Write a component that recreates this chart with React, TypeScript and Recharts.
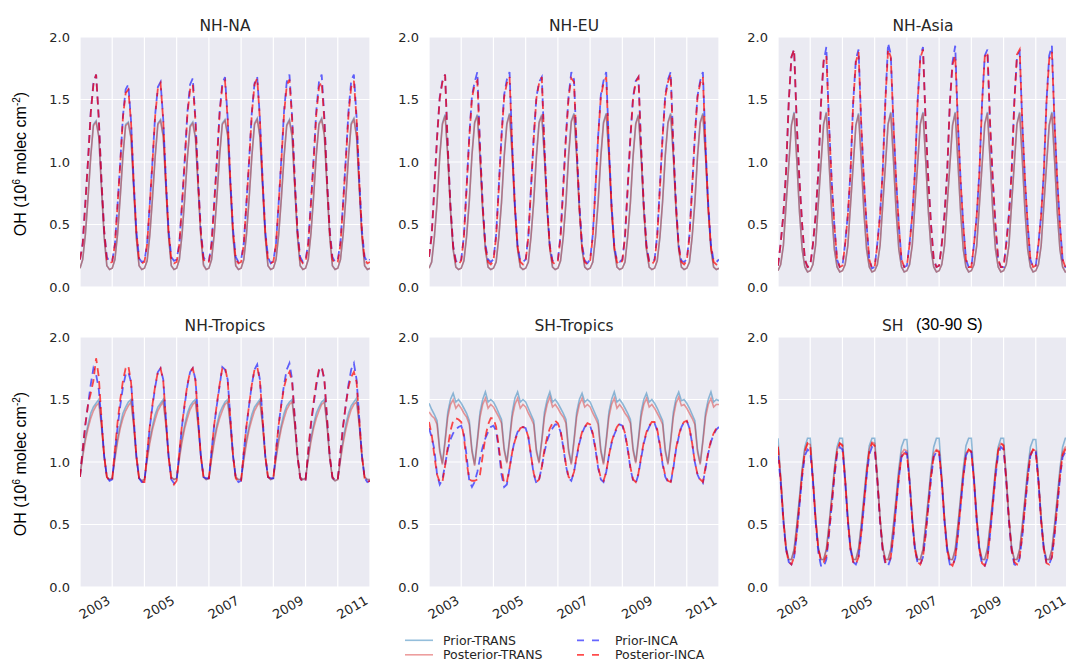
import { LineChart, Line, XAxis, YAxis, CartesianGrid } from "recharts";

// monthly OH means, Jan 2002 .. Jan 2011 (one row per year + final Jan)
const startYear = 2002;
const yearTicks = [2003, 2004, 2005, 2006, 2007, 2008, 2009, 2010, 2011];
const labelledYears = [2003, 2005, 2007, 2009, 2011];
const ohTicks = [0, 0.5, 1.0, 1.5, 2.0];
const seriesNames = ["Prior-TRANS", "Posterior-TRANS", "Prior-INCA", "Posterior-INCA"];

// ---- NH-NA ----
const naPriorTrans = [
  0.15, 0.22, 0.42, 0.72, 1.05, 1.30, 1.33, 1.21, 0.80, 0.40, 0.17, 0.14,
  0.15, 0.22, 0.43, 0.73, 1.06, 1.30, 1.32, 1.20, 0.79, 0.39, 0.17, 0.14,
  0.15, 0.21, 0.42, 0.72, 1.05, 1.31, 1.34, 1.21, 0.80, 0.40, 0.17, 0.14,
  0.15, 0.22, 0.42, 0.71, 1.04, 1.29, 1.32, 1.20, 0.80, 0.41, 0.18, 0.14,
  0.15, 0.22, 0.43, 0.73, 1.06, 1.31, 1.34, 1.22, 0.80, 0.40, 0.17, 0.14,
  0.15, 0.22, 0.42, 0.72, 1.05, 1.31, 1.35, 1.21, 0.81, 0.40, 0.17, 0.14,
  0.15, 0.22, 0.42, 0.72, 1.05, 1.30, 1.34, 1.21, 0.80, 0.40, 0.17, 0.14,
  0.15, 0.22, 0.43, 0.73, 1.06, 1.31, 1.35, 1.22, 0.80, 0.40, 0.17, 0.14,
  0.15, 0.22, 0.42, 0.72, 1.05, 1.31, 1.35, 1.21, 0.80, 0.40, 0.17, 0.14,
  0.15,
];
const naPostTrans = [
  0.15, 0.22, 0.42, 0.71, 1.04, 1.29, 1.32, 1.20, 0.79, 0.40, 0.17, 0.14,
  0.15, 0.22, 0.42, 0.72, 1.05, 1.29, 1.31, 1.19, 0.79, 0.39, 0.17, 0.14,
  0.15, 0.21, 0.41, 0.71, 1.04, 1.30, 1.33, 1.20, 0.79, 0.40, 0.17, 0.14,
  0.15, 0.22, 0.42, 0.71, 1.03, 1.28, 1.31, 1.19, 0.79, 0.40, 0.17, 0.14,
  0.15, 0.22, 0.42, 0.72, 1.05, 1.30, 1.33, 1.21, 0.80, 0.40, 0.17, 0.14,
  0.15, 0.22, 0.42, 0.71, 1.04, 1.30, 1.34, 1.20, 0.80, 0.40, 0.17, 0.14,
  0.15, 0.22, 0.42, 0.71, 1.04, 1.29, 1.33, 1.20, 0.79, 0.40, 0.17, 0.14,
  0.15, 0.22, 0.42, 0.72, 1.05, 1.30, 1.34, 1.21, 0.80, 0.40, 0.17, 0.14,
  0.15, 0.22, 0.42, 0.71, 1.04, 1.30, 1.34, 1.20, 0.79, 0.40, 0.17, 0.14,
  0.15,
];
const naPriorInca = [
  0.22, 0.35, 0.68, 1.02, 1.40, 1.63, 1.70, 1.35, 0.85, 0.45, 0.24, 0.20,
  0.21, 0.34, 0.66, 1.00, 1.37, 1.58, 1.62, 1.33, 0.84, 0.45, 0.23, 0.20,
  0.21, 0.35, 0.67, 1.01, 1.38, 1.60, 1.64, 1.34, 0.85, 0.45, 0.24, 0.21,
  0.22, 0.35, 0.67, 1.02, 1.40, 1.62, 1.67, 1.34, 0.85, 0.45, 0.24, 0.20,
  0.21, 0.35, 0.68, 1.02, 1.40, 1.63, 1.68, 1.35, 0.85, 0.46, 0.24, 0.20,
  0.22, 0.35, 0.68, 1.02, 1.40, 1.63, 1.68, 1.35, 0.86, 0.45, 0.24, 0.19,
  0.21, 0.35, 0.68, 1.03, 1.41, 1.64, 1.70, 1.36, 0.85, 0.45, 0.24, 0.20,
  0.22, 0.35, 0.68, 1.03, 1.41, 1.64, 1.70, 1.36, 0.86, 0.46, 0.24, 0.20,
  0.22, 0.36, 0.68, 1.03, 1.41, 1.65, 1.70, 1.36, 0.86, 0.45, 0.24, 0.20,
  0.22,
];
const naPostInca = [
  0.22, 0.34, 0.67, 1.01, 1.39, 1.62, 1.70, 1.34, 0.85, 0.45, 0.22, 0.19,
  0.20, 0.34, 0.66, 0.99, 1.36, 1.55, 1.58, 1.32, 0.84, 0.44, 0.22, 0.19,
  0.20, 0.34, 0.66, 1.00, 1.37, 1.59, 1.63, 1.33, 0.84, 0.44, 0.22, 0.19,
  0.20, 0.34, 0.66, 1.00, 1.38, 1.58, 1.62, 1.33, 0.84, 0.44, 0.22, 0.19,
  0.20, 0.34, 0.67, 1.01, 1.39, 1.61, 1.65, 1.34, 0.85, 0.45, 0.22, 0.19,
  0.20, 0.34, 0.67, 1.01, 1.39, 1.62, 1.67, 1.34, 0.85, 0.44, 0.22, 0.19,
  0.20, 0.34, 0.67, 1.01, 1.39, 1.61, 1.66, 1.34, 0.84, 0.44, 0.22, 0.19,
  0.20, 0.34, 0.66, 1.00, 1.38, 1.60, 1.64, 1.33, 0.84, 0.44, 0.22, 0.19,
  0.20, 0.34, 0.67, 1.01, 1.38, 1.60, 1.65, 1.34, 0.85, 0.44, 0.22, 0.19,
  0.20,
];

// ---- NH-EU ----
const euPriorTrans = [
  0.15, 0.20, 0.40, 0.68, 1.05, 1.31, 1.38, 1.05, 0.62, 0.30, 0.16, 0.14,
  0.15, 0.21, 0.41, 0.69, 1.06, 1.32, 1.38, 1.04, 0.61, 0.30, 0.16, 0.14,
  0.15, 0.20, 0.40, 0.68, 1.05, 1.31, 1.39, 1.05, 0.62, 0.30, 0.16, 0.14,
  0.15, 0.20, 0.41, 0.69, 1.05, 1.32, 1.38, 1.04, 0.62, 0.31, 0.16, 0.14,
  0.15, 0.21, 0.40, 0.68, 1.06, 1.33, 1.39, 1.05, 0.62, 0.30, 0.16, 0.14,
  0.15, 0.20, 0.40, 0.69, 1.05, 1.32, 1.39, 1.06, 0.62, 0.30, 0.16, 0.14,
  0.15, 0.20, 0.41, 0.68, 1.05, 1.31, 1.38, 1.05, 0.61, 0.30, 0.16, 0.14,
  0.15, 0.21, 0.40, 0.69, 1.06, 1.32, 1.39, 1.05, 0.62, 0.30, 0.16, 0.14,
  0.15, 0.20, 0.40, 0.68, 1.05, 1.32, 1.39, 1.05, 0.62, 0.30, 0.16, 0.14,
  0.15,
];
const euPostTrans = [
  0.15, 0.20, 0.40, 0.67, 1.04, 1.30, 1.37, 1.04, 0.61, 0.30, 0.16, 0.14,
  0.15, 0.21, 0.40, 0.68, 1.05, 1.31, 1.37, 1.03, 0.61, 0.30, 0.16, 0.14,
  0.15, 0.20, 0.40, 0.67, 1.04, 1.30, 1.38, 1.04, 0.61, 0.30, 0.16, 0.14,
  0.15, 0.20, 0.40, 0.68, 1.04, 1.31, 1.37, 1.03, 0.61, 0.30, 0.16, 0.14,
  0.15, 0.21, 0.40, 0.67, 1.05, 1.32, 1.38, 1.04, 0.61, 0.30, 0.16, 0.14,
  0.15, 0.20, 0.40, 0.68, 1.04, 1.31, 1.38, 1.05, 0.61, 0.30, 0.16, 0.14,
  0.15, 0.20, 0.40, 0.67, 1.04, 1.30, 1.37, 1.04, 0.61, 0.30, 0.16, 0.14,
  0.15, 0.21, 0.40, 0.68, 1.05, 1.31, 1.38, 1.04, 0.61, 0.30, 0.16, 0.14,
  0.15, 0.20, 0.40, 0.67, 1.04, 1.31, 1.38, 1.04, 0.61, 0.30, 0.16, 0.14,
  0.15,
];
const euPriorInca = [
  0.24, 0.42, 0.80, 1.20, 1.52, 1.65, 1.70, 1.12, 0.65, 0.33, 0.21, 0.19,
  0.22, 0.41, 0.80, 1.21, 1.53, 1.64, 1.72, 1.13, 0.66, 0.34, 0.22, 0.20,
  0.22, 0.42, 0.81, 1.21, 1.54, 1.66, 1.72, 1.13, 0.66, 0.33, 0.21, 0.20,
  0.22, 0.41, 0.80, 1.20, 1.52, 1.64, 1.68, 1.11, 0.65, 0.33, 0.21, 0.20,
  0.22, 0.42, 0.81, 1.21, 1.53, 1.72, 1.66, 1.12, 0.66, 0.34, 0.21, 0.19,
  0.22, 0.42, 0.80, 1.21, 1.54, 1.65, 1.72, 1.13, 0.66, 0.33, 0.21, 0.20,
  0.22, 0.41, 0.80, 1.20, 1.52, 1.65, 1.68, 1.12, 0.65, 0.33, 0.21, 0.20,
  0.22, 0.42, 0.81, 1.21, 1.54, 1.66, 1.72, 1.13, 0.66, 0.33, 0.21, 0.20,
  0.22, 0.42, 0.80, 1.21, 1.53, 1.65, 1.72, 1.13, 0.66, 0.34, 0.21, 0.20,
  0.22,
];
const euPostInca = [
  0.24, 0.41, 0.79, 1.19, 1.51, 1.64, 1.70, 1.11, 0.64, 0.32, 0.20, 0.18,
  0.21, 0.40, 0.79, 1.19, 1.51, 1.62, 1.65, 1.11, 0.64, 0.32, 0.20, 0.18,
  0.21, 0.40, 0.79, 1.20, 1.52, 1.63, 1.68, 1.11, 0.64, 0.32, 0.20, 0.18,
  0.21, 0.40, 0.79, 1.19, 1.51, 1.63, 1.68, 1.11, 0.64, 0.32, 0.20, 0.18,
  0.21, 0.40, 0.79, 1.20, 1.52, 1.67, 1.64, 1.11, 0.64, 0.32, 0.20, 0.18,
  0.21, 0.40, 0.79, 1.20, 1.52, 1.63, 1.68, 1.11, 0.64, 0.32, 0.20, 0.18,
  0.21, 0.40, 0.79, 1.19, 1.51, 1.64, 1.68, 1.11, 0.64, 0.32, 0.20, 0.18,
  0.21, 0.40, 0.79, 1.20, 1.52, 1.64, 1.70, 1.11, 0.64, 0.32, 0.20, 0.18,
  0.21, 0.40, 0.79, 1.20, 1.52, 1.63, 1.68, 1.11, 0.64, 0.32, 0.20, 0.18,
  0.21,
];

// ---- NH-Asia ----
const asPriorTrans = [
  0.13, 0.18, 0.33, 0.66, 0.98, 1.30, 1.40, 1.02, 0.60, 0.30, 0.16, 0.12,
  0.13, 0.18, 0.34, 0.67, 0.99, 1.31, 1.40, 1.01, 0.60, 0.30, 0.16, 0.12,
  0.13, 0.18, 0.33, 0.66, 0.98, 1.30, 1.39, 1.02, 0.60, 0.30, 0.16, 0.12,
  0.13, 0.18, 0.33, 0.66, 0.98, 1.31, 1.40, 1.02, 0.61, 0.30, 0.16, 0.12,
  0.13, 0.18, 0.34, 0.67, 0.99, 1.31, 1.40, 1.02, 0.60, 0.30, 0.16, 0.12,
  0.13, 0.18, 0.33, 0.66, 0.98, 1.30, 1.40, 1.01, 0.60, 0.30, 0.16, 0.12,
  0.13, 0.18, 0.33, 0.66, 0.98, 1.31, 1.40, 1.02, 0.60, 0.30, 0.16, 0.12,
  0.13, 0.18, 0.34, 0.67, 0.99, 1.31, 1.40, 1.02, 0.60, 0.30, 0.16, 0.12,
  0.13, 0.18, 0.33, 0.66, 0.98, 1.30, 1.40, 1.02, 0.60, 0.30, 0.16, 0.12,
  0.13,
];
const asPostTrans = [
  0.13, 0.18, 0.33, 0.65, 0.97, 1.29, 1.39, 1.01, 0.60, 0.30, 0.16, 0.12,
  0.13, 0.18, 0.33, 0.66, 0.98, 1.30, 1.39, 1.00, 0.60, 0.30, 0.16, 0.12,
  0.13, 0.18, 0.33, 0.65, 0.97, 1.29, 1.38, 1.01, 0.60, 0.30, 0.16, 0.12,
  0.13, 0.18, 0.33, 0.65, 0.97, 1.30, 1.39, 1.01, 0.60, 0.30, 0.16, 0.12,
  0.13, 0.18, 0.33, 0.66, 0.98, 1.30, 1.39, 1.01, 0.60, 0.30, 0.16, 0.12,
  0.13, 0.18, 0.33, 0.65, 0.97, 1.29, 1.39, 1.00, 0.60, 0.30, 0.16, 0.12,
  0.13, 0.18, 0.33, 0.65, 0.97, 1.30, 1.39, 1.01, 0.60, 0.30, 0.16, 0.12,
  0.13, 0.18, 0.33, 0.66, 0.98, 1.30, 1.39, 1.01, 0.60, 0.30, 0.16, 0.12,
  0.13, 0.18, 0.33, 0.65, 0.97, 1.29, 1.39, 1.01, 0.60, 0.30, 0.16, 0.12,
  0.13,
];
const asPriorInca = [
  0.17, 0.35, 0.58, 0.92, 1.48, 1.84, 1.90, 1.30, 0.85, 0.50, 0.22, 0.16,
  0.17, 0.34, 0.57, 0.91, 1.47, 1.80, 1.92, 1.31, 0.85, 0.49, 0.22, 0.16,
  0.17, 0.35, 0.58, 0.92, 1.48, 1.82, 1.90, 1.30, 0.85, 0.50, 0.22, 0.15,
  0.16, 0.35, 0.58, 0.93, 1.50, 1.95, 1.86, 1.31, 0.86, 0.50, 0.22, 0.16,
  0.17, 0.35, 0.58, 0.92, 1.49, 1.85, 1.92, 1.31, 0.85, 0.50, 0.22, 0.16,
  0.17, 0.35, 0.58, 0.92, 1.48, 1.80, 1.93, 1.31, 0.86, 0.50, 0.22, 0.16,
  0.16, 0.34, 0.57, 0.92, 1.48, 1.85, 1.90, 1.30, 0.85, 0.50, 0.22, 0.16,
  0.16, 0.35, 0.58, 0.92, 1.48, 1.84, 1.88, 1.30, 0.85, 0.50, 0.22, 0.16,
  0.17, 0.35, 0.58, 0.92, 1.49, 1.85, 1.93, 1.31, 0.86, 0.50, 0.22, 0.16,
  0.17,
];
const asPostInca = [
  0.17, 0.35, 0.58, 0.92, 1.48, 1.84, 1.90, 1.30, 0.85, 0.50, 0.22, 0.16,
  0.17, 0.34, 0.57, 0.91, 1.46, 1.82, 1.85, 1.30, 0.84, 0.49, 0.22, 0.16,
  0.17, 0.34, 0.57, 0.91, 1.47, 1.80, 1.88, 1.30, 0.85, 0.49, 0.22, 0.15,
  0.16, 0.34, 0.57, 0.92, 1.49, 1.90, 1.84, 1.30, 0.85, 0.49, 0.22, 0.16,
  0.17, 0.34, 0.57, 0.91, 1.48, 1.83, 1.90, 1.30, 0.85, 0.49, 0.22, 0.16,
  0.17, 0.34, 0.57, 0.91, 1.47, 1.78, 1.85, 1.30, 0.85, 0.49, 0.22, 0.16,
  0.16, 0.34, 0.57, 0.91, 1.47, 1.84, 1.88, 1.30, 0.85, 0.49, 0.22, 0.16,
  0.16, 0.34, 0.57, 0.91, 1.47, 1.86, 1.90, 1.30, 0.85, 0.49, 0.22, 0.16,
  0.17, 0.34, 0.57, 0.91, 1.48, 1.82, 1.88, 1.30, 0.85, 0.49, 0.22, 0.16,
  0.17,
];

// ---- NH-Tropics ----
const ntPriorTrans = [
  0.90, 1.06, 1.20, 1.30, 1.39, 1.44, 1.47, 1.50, 1.30, 1.05, 0.88, 0.86,
  0.87, 1.04, 1.19, 1.30, 1.39, 1.44, 1.48, 1.50, 1.30, 1.04, 0.87, 0.85,
  0.86, 1.03, 1.18, 1.29, 1.38, 1.44, 1.47, 1.50, 1.31, 1.05, 0.88, 0.86,
  0.87, 1.04, 1.19, 1.30, 1.39, 1.45, 1.48, 1.50, 1.30, 1.05, 0.88, 0.86,
  0.87, 1.04, 1.19, 1.30, 1.39, 1.44, 1.48, 1.50, 1.30, 1.05, 0.88, 0.86,
  0.86, 1.03, 1.18, 1.29, 1.38, 1.44, 1.47, 1.50, 1.31, 1.05, 0.88, 0.86,
  0.87, 1.04, 1.19, 1.30, 1.39, 1.45, 1.48, 1.50, 1.30, 1.05, 0.88, 0.86,
  0.87, 1.04, 1.19, 1.30, 1.39, 1.44, 1.48, 1.50, 1.30, 1.04, 0.87, 0.85,
  0.86, 1.03, 1.18, 1.30, 1.39, 1.45, 1.48, 1.51, 1.31, 1.05, 0.88, 0.86,
  0.86,
];
const ntPostTrans = [
  0.89, 1.04, 1.17, 1.27, 1.35, 1.41, 1.45, 1.47, 1.28, 1.04, 0.88, 0.86,
  0.87, 1.02, 1.16, 1.27, 1.35, 1.41, 1.45, 1.48, 1.29, 1.03, 0.87, 0.85,
  0.86, 1.01, 1.15, 1.26, 1.34, 1.41, 1.45, 1.48, 1.29, 1.04, 0.88, 0.86,
  0.87, 1.02, 1.16, 1.27, 1.35, 1.42, 1.46, 1.48, 1.29, 1.04, 0.88, 0.86,
  0.87, 1.02, 1.16, 1.27, 1.35, 1.41, 1.46, 1.48, 1.29, 1.04, 0.88, 0.86,
  0.86, 1.01, 1.15, 1.26, 1.34, 1.41, 1.45, 1.48, 1.29, 1.04, 0.88, 0.86,
  0.87, 1.02, 1.16, 1.27, 1.35, 1.42, 1.46, 1.48, 1.29, 1.04, 0.88, 0.86,
  0.87, 1.02, 1.16, 1.27, 1.35, 1.41, 1.46, 1.48, 1.29, 1.03, 0.87, 0.85,
  0.86, 1.01, 1.15, 1.26, 1.35, 1.42, 1.46, 1.48, 1.29, 1.04, 0.88, 0.86,
  0.86,
];
const ntPriorInca = [
  0.88, 1.10, 1.30, 1.46, 1.62, 1.75, 1.70, 1.58, 1.33, 1.05, 0.88, 0.85,
  0.86, 1.08, 1.28, 1.45, 1.60, 1.70, 1.72, 1.64, 1.35, 1.05, 0.87, 0.84,
  0.84, 1.06, 1.28, 1.45, 1.60, 1.72, 1.75, 1.66, 1.35, 1.04, 0.86, 0.83,
  0.85, 1.08, 1.29, 1.46, 1.61, 1.72, 1.75, 1.66, 1.35, 1.05, 0.88, 0.87,
  0.87, 1.09, 1.30, 1.46, 1.61, 1.76, 1.74, 1.66, 1.35, 1.05, 0.87, 0.84,
  0.85, 1.08, 1.29, 1.46, 1.62, 1.74, 1.78, 1.66, 1.35, 1.05, 0.88, 0.87,
  0.87, 1.09, 1.30, 1.47, 1.62, 1.74, 1.79, 1.66, 1.35, 1.05, 0.87, 0.84,
  0.85, 1.08, 1.29, 1.46, 1.61, 1.73, 1.76, 1.66, 1.35, 1.05, 0.88, 0.85,
  0.86, 1.08, 1.29, 1.46, 1.62, 1.74, 1.79, 1.66, 1.35, 1.05, 0.87, 0.84,
  0.85,
];
const ntPostInca = [
  0.88, 1.10, 1.30, 1.46, 1.55, 1.65, 1.83, 1.68, 1.35, 1.05, 0.88, 0.85,
  0.86, 1.10, 1.32, 1.50, 1.65, 1.75, 1.77, 1.64, 1.34, 1.05, 0.87, 0.84,
  0.84, 1.07, 1.29, 1.46, 1.61, 1.72, 1.75, 1.65, 1.34, 1.04, 0.86, 0.82,
  0.85, 1.08, 1.30, 1.47, 1.62, 1.72, 1.75, 1.65, 1.34, 1.05, 0.88, 0.87,
  0.87, 1.09, 1.30, 1.47, 1.62, 1.75, 1.76, 1.65, 1.35, 1.05, 0.87, 0.84,
  0.85, 1.08, 1.29, 1.46, 1.62, 1.74, 1.76, 1.65, 1.35, 1.05, 0.88, 0.87,
  0.87, 1.09, 1.30, 1.46, 1.60, 1.68, 1.72, 1.64, 1.34, 1.05, 0.87, 0.84,
  0.85, 1.09, 1.31, 1.48, 1.63, 1.74, 1.76, 1.66, 1.35, 1.05, 0.88, 0.85,
  0.86, 1.08, 1.29, 1.46, 1.60, 1.68, 1.72, 1.64, 1.34, 1.05, 0.87, 0.84,
  0.85,
];

// ---- SH-Tropics ----
const stPriorTrans = [
  1.47, 1.42, 1.38, 1.33, 1.10, 0.99, 1.18, 1.40, 1.50, 1.55, 1.48, 1.50,
  1.47, 1.43, 1.39, 1.33, 1.10, 0.98, 1.18, 1.40, 1.50, 1.56, 1.48, 1.50,
  1.48, 1.44, 1.39, 1.34, 1.11, 1.00, 1.19, 1.40, 1.51, 1.56, 1.48, 1.50,
  1.48, 1.43, 1.38, 1.33, 1.10, 1.00, 1.18, 1.40, 1.50, 1.56, 1.48, 1.50,
  1.47, 1.43, 1.39, 1.34, 1.10, 0.99, 1.18, 1.40, 1.50, 1.55, 1.48, 1.50,
  1.48, 1.43, 1.38, 1.33, 1.10, 0.99, 1.18, 1.40, 1.50, 1.56, 1.48, 1.50,
  1.47, 1.43, 1.39, 1.34, 1.11, 1.00, 1.19, 1.40, 1.50, 1.55, 1.48, 1.50,
  1.47, 1.43, 1.38, 1.33, 1.10, 0.99, 1.18, 1.40, 1.51, 1.56, 1.49, 1.50,
  1.47, 1.43, 1.38, 1.33, 1.10, 0.99, 1.18, 1.40, 1.50, 1.56, 1.48, 1.50,
  1.49,
];
const stPostTrans = [
  1.40, 1.37, 1.35, 1.30, 1.08, 0.98, 1.16, 1.36, 1.46, 1.50, 1.43, 1.46,
  1.43, 1.39, 1.36, 1.30, 1.08, 0.97, 1.16, 1.36, 1.46, 1.51, 1.43, 1.46,
  1.44, 1.40, 1.36, 1.31, 1.09, 0.99, 1.17, 1.36, 1.46, 1.51, 1.43, 1.46,
  1.44, 1.39, 1.35, 1.30, 1.08, 0.99, 1.16, 1.36, 1.46, 1.52, 1.44, 1.46,
  1.43, 1.39, 1.36, 1.31, 1.08, 0.98, 1.16, 1.36, 1.46, 1.51, 1.44, 1.46,
  1.44, 1.39, 1.35, 1.30, 1.08, 0.98, 1.16, 1.36, 1.46, 1.51, 1.43, 1.46,
  1.43, 1.39, 1.36, 1.31, 1.09, 0.99, 1.17, 1.36, 1.46, 1.51, 1.44, 1.46,
  1.43, 1.39, 1.35, 1.30, 1.08, 0.98, 1.16, 1.36, 1.47, 1.52, 1.45, 1.46,
  1.43, 1.39, 1.35, 1.30, 1.08, 0.98, 1.16, 1.36, 1.46, 1.51, 1.44, 1.46,
  1.46,
];
const stPriorInca = [
  1.27, 1.20, 1.10, 0.90, 0.82, 0.86, 0.98, 1.10, 1.18, 1.23, 1.26, 1.28,
  1.29, 1.22, 1.05, 0.85, 0.80, 0.84, 0.92, 1.03, 1.12, 1.19, 1.24, 1.28,
  1.29, 1.25, 1.10, 0.90, 0.80, 0.82, 0.95, 1.08, 1.18, 1.24, 1.27, 1.28,
  1.27, 1.20, 1.05, 0.90, 0.83, 0.86, 0.96, 1.08, 1.17, 1.23, 1.27, 1.30,
  1.30, 1.24, 1.12, 0.97, 0.87, 0.85, 0.92, 1.04, 1.15, 1.23, 1.28, 1.30,
  1.29, 1.22, 1.10, 0.95, 0.86, 0.84, 0.92, 1.05, 1.15, 1.22, 1.27, 1.30,
  1.29, 1.22, 1.10, 0.95, 0.85, 0.83, 0.90, 1.03, 1.15, 1.23, 1.28, 1.32,
  1.31, 1.25, 1.13, 0.98, 0.88, 0.84, 0.83, 0.95, 1.10, 1.20, 1.28, 1.32,
  1.33, 1.27, 1.15, 1.00, 0.90, 0.85, 0.83, 0.95, 1.07, 1.16, 1.22, 1.26,
  1.28,
];
const stPostInca = [
  1.32, 1.22, 1.05, 0.90, 0.84, 0.84, 0.97, 1.12, 1.25, 1.33, 1.35, 1.34,
  1.32, 1.20, 1.00, 0.86, 0.85, 0.85, 0.86, 0.90, 1.05, 1.20, 1.30, 1.35,
  1.35, 1.28, 1.12, 0.95, 0.83, 0.84, 0.95, 1.08, 1.17, 1.23, 1.27, 1.28,
  1.27, 1.20, 1.05, 0.91, 0.84, 0.86, 0.96, 1.10, 1.20, 1.27, 1.31, 1.33,
  1.31, 1.25, 1.13, 0.98, 0.88, 0.86, 0.92, 1.05, 1.16, 1.24, 1.28, 1.31,
  1.30, 1.23, 1.11, 0.96, 0.87, 0.85, 0.92, 1.05, 1.16, 1.23, 1.28, 1.31,
  1.30, 1.23, 1.11, 0.96, 0.86, 0.84, 0.91, 1.04, 1.16, 1.24, 1.29, 1.32,
  1.32, 1.26, 1.14, 0.99, 0.89, 0.85, 0.84, 0.96, 1.11, 1.21, 1.29, 1.32,
  1.33, 1.27, 1.15, 1.00, 0.90, 0.86, 0.84, 0.96, 1.08, 1.17, 1.23, 1.27,
  1.29,
];

// ---- SH (30-90 S) ----
const shPriorTrans = [
  1.19, 0.88, 0.56, 0.32, 0.22, 0.22, 0.30, 0.50, 0.72, 0.95, 1.12, 1.19,
  1.19, 0.88, 0.56, 0.32, 0.22, 0.22, 0.30, 0.50, 0.72, 0.95, 1.12, 1.19,
  1.19, 0.88, 0.57, 0.32, 0.22, 0.22, 0.31, 0.50, 0.73, 0.95, 1.13, 1.19,
  1.19, 0.88, 0.56, 0.32, 0.22, 0.22, 0.30, 0.50, 0.72, 0.95, 1.12, 1.18,
  1.18, 0.87, 0.56, 0.32, 0.22, 0.22, 0.30, 0.50, 0.72, 0.95, 1.12, 1.19,
  1.19, 0.88, 0.56, 0.32, 0.22, 0.22, 0.30, 0.50, 0.72, 0.95, 1.13, 1.19,
  1.19, 0.88, 0.57, 0.32, 0.22, 0.22, 0.31, 0.50, 0.72, 0.95, 1.12, 1.19,
  1.19, 0.88, 0.56, 0.32, 0.22, 0.22, 0.30, 0.50, 0.72, 0.95, 1.12, 1.18,
  1.18, 0.87, 0.56, 0.32, 0.22, 0.22, 0.30, 0.50, 0.72, 0.95, 1.12, 1.19,
  1.19,
];
const shPostTrans = [
  1.13, 0.86, 0.55, 0.31, 0.22, 0.22, 0.30, 0.49, 0.70, 0.93, 1.10, 1.15,
  1.14, 0.86, 0.55, 0.31, 0.22, 0.22, 0.30, 0.49, 0.70, 0.93, 1.10, 1.15,
  1.14, 0.86, 0.55, 0.31, 0.22, 0.22, 0.30, 0.49, 0.70, 0.93, 1.10, 1.16,
  1.15, 0.86, 0.55, 0.31, 0.22, 0.22, 0.30, 0.49, 0.70, 0.92, 1.07, 1.10,
  1.09, 0.85, 0.55, 0.31, 0.22, 0.22, 0.30, 0.49, 0.70, 0.92, 1.07, 1.10,
  1.09, 0.85, 0.55, 0.31, 0.22, 0.22, 0.30, 0.49, 0.70, 0.92, 1.07, 1.10,
  1.09, 0.85, 0.55, 0.31, 0.22, 0.22, 0.30, 0.49, 0.70, 0.93, 1.10, 1.15,
  1.14, 0.86, 0.55, 0.31, 0.22, 0.22, 0.30, 0.49, 0.70, 0.92, 1.07, 1.10,
  1.09, 0.85, 0.55, 0.31, 0.22, 0.22, 0.30, 0.49, 0.70, 0.92, 1.08, 1.12,
  1.12,
];
const shPriorInca = [
  1.05, 0.84, 0.52, 0.30, 0.20, 0.18, 0.24, 0.42, 0.65, 0.88, 1.05, 1.10,
  1.08, 0.85, 0.52, 0.28, 0.17, 0.16, 0.22, 0.42, 0.65, 0.88, 1.06, 1.12,
  1.10, 0.85, 0.52, 0.30, 0.20, 0.18, 0.24, 0.42, 0.65, 0.88, 1.06, 1.12,
  1.10, 0.85, 0.52, 0.29, 0.18, 0.17, 0.23, 0.41, 0.64, 0.87, 1.04, 1.09,
  1.07, 0.84, 0.52, 0.30, 0.19, 0.18, 0.24, 0.42, 0.64, 0.87, 1.04, 1.08,
  1.07, 0.84, 0.52, 0.29, 0.18, 0.17, 0.23, 0.41, 0.64, 0.87, 1.05, 1.10,
  1.08, 0.85, 0.52, 0.29, 0.18, 0.17, 0.23, 0.42, 0.65, 0.88, 1.06, 1.12,
  1.10, 0.85, 0.52, 0.29, 0.18, 0.17, 0.23, 0.41, 0.64, 0.87, 1.05, 1.10,
  1.08, 0.84, 0.52, 0.30, 0.19, 0.18, 0.24, 0.42, 0.64, 0.87, 1.04, 1.08,
  1.06,
];
const shPostInca = [
  1.12, 0.86, 0.54, 0.30, 0.20, 0.18, 0.24, 0.43, 0.66, 0.90, 1.08, 1.15,
  1.13, 0.86, 0.54, 0.31, 0.21, 0.20, 0.25, 0.43, 0.66, 0.90, 1.08, 1.15,
  1.13, 0.86, 0.54, 0.30, 0.20, 0.18, 0.24, 0.43, 0.66, 0.90, 1.09, 1.15,
  1.13, 0.86, 0.54, 0.30, 0.20, 0.19, 0.24, 0.42, 0.65, 0.88, 1.04, 1.07,
  1.06, 0.84, 0.53, 0.30, 0.20, 0.18, 0.24, 0.42, 0.65, 0.88, 1.05, 1.09,
  1.08, 0.85, 0.53, 0.30, 0.19, 0.17, 0.23, 0.42, 0.65, 0.88, 1.05, 1.10,
  1.08, 0.85, 0.54, 0.30, 0.19, 0.17, 0.23, 0.43, 0.66, 0.90, 1.09, 1.15,
  1.13, 0.86, 0.54, 0.30, 0.20, 0.18, 0.24, 0.42, 0.65, 0.88, 1.05, 1.10,
  1.08, 0.85, 0.53, 0.30, 0.19, 0.18, 0.24, 0.42, 0.65, 0.88, 1.06, 1.10,
  1.08,
];

type Row = { t: number; priorTrans: number; postTrans: number; priorInca: number; postInca: number };

function buildRows(priorTrans: number[], postTrans: number[], priorInca: number[], postInca: number[]): Row[] {
  return priorTrans.map((v, i) => ({
    t: startYear + i / 12,
    priorTrans: v,
    postTrans: postTrans[i],
    priorInca: priorInca[i],
    postInca: postInca[i],
  }));
}

const seriesStyle = [
  { key: "priorTrans", color: "#1f77b4", opacity: 0.48, width: 1.6, dash: undefined },
  { key: "postTrans", color: "#d62728", opacity: 0.45, width: 1.6, dash: undefined },
  { key: "priorInca", color: "#0000ff", opacity: 0.6, width: 1.8, dash: "8 5" },
  { key: "postInca", color: "#ff0000", opacity: 0.7, width: 1.8, dash: "8 5" },
];

const tickFont = { fontFamily: "DejaVu Sans", fontSize: 13, fill: "#262626" };

function YearTick(props: any) {
  const { x, y, payload, show } = props;
  if (!show || !labelledYears.includes(payload.value)) return <g />;
  return (
    <text
      x={0}
      y={0}
      transform={`translate(${x - 1},${y + 16}) rotate(-30)`}
      textAnchor="end"
      {...tickFont}
    >
      {payload.value}
    </text>
  );
}

const PLOT_W = 290;
const PLOT_H = 250;
const YAXIS_W = 60;
const TOP_PAD = 10;
const XAXIS_H = 50;

function Panel({ rows, left, top, showYears }: { rows: Row[]; left: number; top: number; showYears: boolean }) {
  return (
    <div style={{ position: "absolute", left: left - YAXIS_W, top: top - TOP_PAD }}>
      <LineChart
        width={YAXIS_W + PLOT_W}
        height={TOP_PAD + PLOT_H + XAXIS_H}
        data={rows}
        margin={{ top: TOP_PAD, right: 0, bottom: 0, left: 0 }}
      >
        <CartesianGrid fill="#eaeaf2" fillOpacity={1} stroke="#ffffff" strokeWidth={1.2} />
        <XAxis
          type="number"
          dataKey="t"
          domain={[2002, 2011]}
          ticks={yearTicks}
          interval={0}
          allowDataOverflow
          axisLine={false}
          tickLine={false}
          tickSize={0}
          tickMargin={0}
          height={XAXIS_H}
          tick={(p: any) => <YearTick {...p} show={showYears} />}
        />
        <YAxis
          type="number"
          domain={[0, 2]}
          ticks={ohTicks}
          interval={0}
          width={YAXIS_W}
          axisLine={false}
          tickLine={false}
          tickSize={0}
          tickMargin={10}
          tick={tickFont}
          tickFormatter={(v: number) => v.toFixed(1)}
        />
        {seriesStyle.map((s) => (
          <Line
            key={s.key}
            type="linear"
            dataKey={s.key}
            stroke={s.color}
            strokeOpacity={s.opacity}
            strokeWidth={s.width}
            strokeDasharray={s.dash}
            dot={false}
            activeDot={false}
            isAnimationActive={false}
          />
        ))}
      </LineChart>
    </div>
  );
}

const panels = [
  { title: "NH-NA", rows: buildRows(naPriorTrans, naPostTrans, naPriorInca, naPostInca), left: 80, top: 37, bottom: false },
  { title: "NH-EU", rows: buildRows(euPriorTrans, euPostTrans, euPriorInca, euPostInca), left: 429, top: 37, bottom: false },
  { title: "NH-Asia", rows: buildRows(asPriorTrans, asPostTrans, asPriorInca, asPostInca), left: 778, top: 37, bottom: false },
  { title: "NH-Tropics", rows: buildRows(ntPriorTrans, ntPostTrans, ntPriorInca, ntPostInca), left: 80, top: 337, bottom: true },
  { title: "SH-Tropics", rows: buildRows(stPriorTrans, stPostTrans, stPriorInca, stPostInca), left: 429, top: 337, bottom: true },
  { title: "", rows: buildRows(shPriorTrans, shPostTrans, shPriorInca, shPostInca), left: 778, top: 337, bottom: true },
];

function OhLabel({ cx, cy }: { cx: number; cy: number }) {
  return (
    <text
      x={0}
      y={0}
      transform={`translate(${cx},${cy}) rotate(-90)`}
      textAnchor="middle"
      fontFamily="Liberation Sans, Arial, sans-serif"
      fontSize={16}
      fill="#000"
    >
      OH (10
      <tspan dy={-6} fontSize={10}>6</tspan>
      <tspan dy={6}> molec cm</tspan>
      <tspan dy={-6} fontSize={10}>-2</tspan>
      <tspan dy={6}>)</tspan>
    </text>
  );
}

export default function App() {
  const titleFont = { fontFamily: "DejaVu Sans", fontSize: 15.5, fill: "#262626" };
  const legendFont = { fontFamily: "DejaVu Sans", fontSize: 12.5, fill: "#262626" };
  return (
    <div
      style={{
        position: "absolute",
        left: 0,
        top: 0,
        width: 1066,
        height: 661,
        overflow: "hidden",
        background: "#ffffff",
      }}
    >
      {panels.map((p, i) => (
        <Panel key={i} rows={p.rows} left={p.left} top={p.top} showYears={p.bottom} />
      ))}
      <svg
        width={1066}
        height={661}
        style={{ position: "absolute", left: 0, top: 0, pointerEvents: "none" }}
      >
        {panels.map((p, i) =>
          p.title ? (
            <text key={i} x={p.left + PLOT_W / 2} y={p.top - 6.3} textAnchor="middle" {...titleFont}>
              {p.title}
            </text>
          ) : null
        )}
        <text x={882} y={330.7} {...titleFont}>SH</text>
        <text x={916} y={330} fontFamily="Liberation Sans, Arial, sans-serif" fontSize={16} fill="#000">
          (30-90 S)
        </text>
        <OhLabel cx={26} cy={164} />
        <OhLabel cx={26} cy={464} />

        {/* legend, two columns */}
        <line x1={405} x2={433} y1={640.3} y2={640.3} stroke="#1f77b4" strokeOpacity={0.48} strokeWidth={1.6} />
        <text x={443} y={644.8} {...legendFont}>{seriesNames[0]}</text>
        <line x1={405} x2={433} y1={654.8} y2={654.8} stroke="#d62728" strokeOpacity={0.45} strokeWidth={1.6} />
        <text x={443} y={659.3} {...legendFont}>{seriesNames[1]}</text>
        <line x1={577} x2={602} y1={640.3} y2={640.3} stroke="#0000ff" strokeOpacity={0.6} strokeWidth={1.8} strokeDasharray="7 8" />
        <text x={615} y={644.8} {...legendFont}>{seriesNames[2]}</text>
        <line x1={577} x2={602} y1={654.8} y2={654.8} stroke="#ff0000" strokeOpacity={0.7} strokeWidth={1.8} strokeDasharray="7 8" />
        <text x={615} y={659.3} {...legendFont}>{seriesNames[3]}</text>
      </svg>
    </div>
  );
}
